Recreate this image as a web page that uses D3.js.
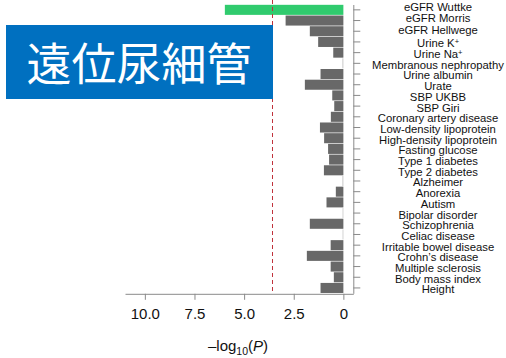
<!DOCTYPE html>
<html>
<head>
<meta charset="utf-8">
<script src="https://cdn.jsdelivr.net/npm/d3@7"></script>
<style>
  html, body { margin: 0; padding: 0; background: #fff; }
  svg { display: block; }
  text { font-family: "Liberation Sans", Arial, Helvetica, sans-serif; }
</style>
</head>
<body>
<svg id="chart" width="506" height="358"></svg>
<script>
// Traits tested, top to bottom
const traits = [
  "eGFR Wuttke", "eGFR Morris", "eGFR Hellwege", "Urine K+", "Urine Na+",
  "Membranous nephropathy", "Urine albumin", "Urate", "SBP UKBB", "SBP Giri",
  "Coronary artery disease", "Low-density lipoprotein", "High-density lipoprotein",
  "Fasting glucose", "Type 1 diabetes", "Type 2 diabetes", "Alzheimer", "Anorexia",
  "Autism", "Bipolar disorder", "Schizophrenia", "Celiac disease",
  "Irritable bowel disease", "Crohn\u2019s disease", "Multiple sclerosis",
  "Body mass index", "Height"
];

// -log10(P) for each trait
const negLogP = [
  5.97, 2.91, 1.69, 1.27, 0.51,
  0.05, 1.15, 1.94, 0.56, 0.46,
  0.63, 1.18, 0.97,
  0.77, 0.72, 0.98, 0.05, 0.38,
  0.85, 0.04, 1.69, 0.04,
  0.64, 1.84, 0.64,
  0.48, 1.15
];

// Significance threshold, -log10(P)
const threshold = 3.62;

const xTicks = [10, 7.5, 5, 2.5, 0];
const titleText = "遠位尿細管";
const highlighted = "eGFR Wuttke";

// Small vertical nudges for the top trait labels (px)
const labelShift = {
  "eGFR Wuttke": -4, "eGFR Morris": -3.5, "eGFR Hellwege": -2.5
};

const rows = traits.map((t, i) => ({ trait: t, value: negLogP[i] }));

const svg = d3.select("#chart");

const x = d3.scaleLinear().domain([11, -0.5]).range([125, 353.3]);
const y = d3.scaleBand().domain(traits).range([4.5, 293.3]).paddingInner(0.06).paddingOuter(0.03);

const axisColor = "#8a8a8a";

// bars
svg.append("g")
  .selectAll("rect")
  .data(rows)
  .join("rect")
  .attr("x", d => x(d.value))
  .attr("y", d => y(d.trait))
  .attr("width", d => Math.max(0.8, x(0) - x(d.value)))
  .attr("height", y.bandwidth())
  .attr("fill", d => d.trait === highlighted ? "#30cb6e" : (d.value < 0.1 ? "#c8c8c8" : "#686868"));

// threshold line
const tx = Math.round(x(threshold)) + 0.5;
svg.append("line")
  .attr("x1", tx).attr("x2", tx)
  .attr("y1", 0).attr("y2", 293.3)
  .attr("stroke", "#c0323c")
  .attr("stroke-width", 1)
  .attr("stroke-dasharray", "4,3");

// x axis
const xAxis = svg.append("g")
  .attr("transform", "translate(0,293.8)")
  .call(d3.axisBottom(x)
    .tickValues(xTicks)
    .tickFormat(d => d === 0 ? "0" : d3.format(".1f")(d))
    .tickSize(6)
    .tickPadding(9)
    .tickSizeOuter(0));
xAxis.select(".domain").attr("stroke", axisColor);
xAxis.selectAll(".tick line").attr("stroke", axisColor);
xAxis.selectAll(".tick text")
  .attr("fill", "#111")
  .style("font-size", "15px")
  .style("font-family", "'Liberation Sans', Arial, sans-serif");

// y axis (ticks on the right, labels placed separately)
const yAxis = svg.append("g")
  .attr("transform", "translate(353.3,0)")
  .call(d3.axisRight(y).tickSize(7).tickSizeOuter(0).tickFormat(""));
yAxis.select(".domain").attr("stroke", axisColor);
yAxis.selectAll(".tick line").attr("stroke", axisColor);

// trait labels
const labels = svg.append("g")
  .selectAll("text")
  .data(rows)
  .join("text")
  .attr("x", 438)
  .attr("y", d => y(d.trait) + y.bandwidth() / 2 + 1.5 + (labelShift[d.trait] || 0))
  .attr("dy", "0.35em")
  .attr("text-anchor", "middle")
  .attr("fill", "#111")
  .style("font-size", "11.3px");

labels.each(function(d) {
  const t = d3.select(this);
  const m = d.trait.match(/^(.*)\+$/);
  if (m) {
    t.append("tspan").text(m[1]);
    t.append("tspan").attr("dy", "-0.4em").style("font-size", "7.5px").text("+");
  } else {
    t.text(d.trait);
  }
});

// axis title: –log10(P)
const xTitle = svg.append("text")
  .attr("x", 238)
  .attr("y", 351)
  .attr("text-anchor", "middle")
  .attr("fill", "#111")
  .style("font-size", "15px");
xTitle.append("tspan").text("\u2013log");
xTitle.append("tspan").attr("dy", "4").style("font-size", "10.5px").text("10");
xTitle.append("tspan").attr("dy", "-4").text("(");
xTitle.append("tspan").style("font-style", "italic").text("P");
xTitle.append("tspan").text(")");

// title banner
svg.append("rect")
  .attr("x", 6).attr("y", 25)
  .attr("width", 267).attr("height", 74)
  .attr("fill", "#0070c0");
svg.append("text")
  .attr("x", 139).attr("y", 61)
  .attr("text-anchor", "middle")
  .attr("dominant-baseline", "central")
  .attr("fill", "#fff")
  .style("font-family", "'Noto Sans CJK JP', 'Noto Sans CJK SC', sans-serif")
  .style("font-size", "45px")
  .text(titleText);
</script>
</body>
</html>
